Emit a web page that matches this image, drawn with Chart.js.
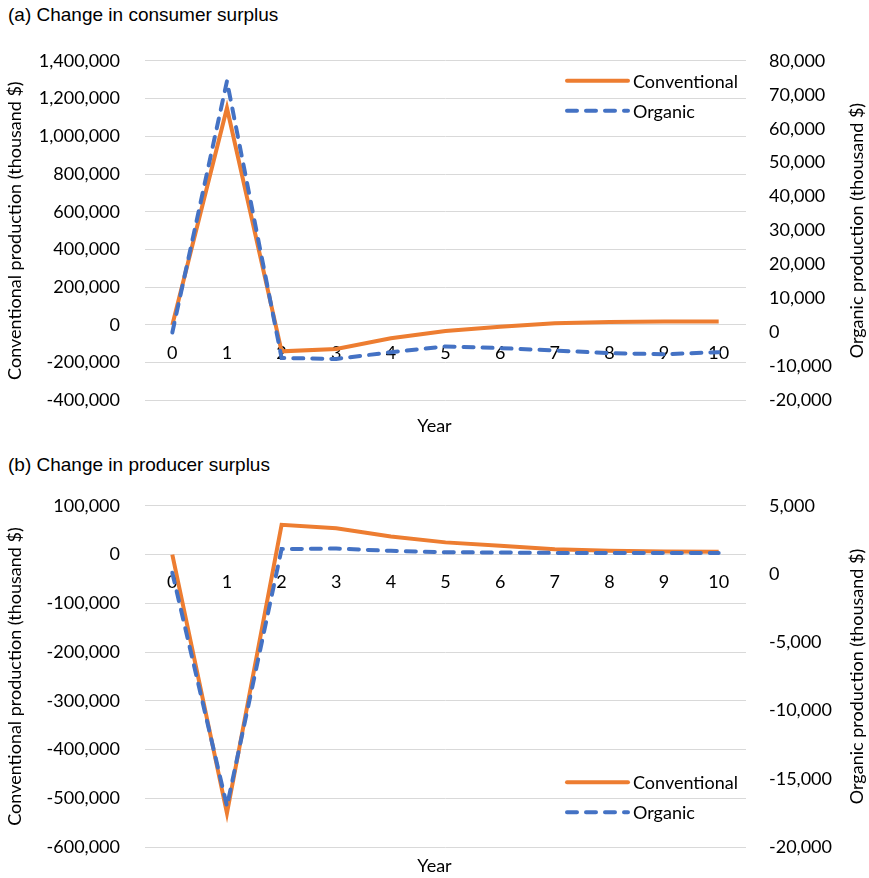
<!DOCTYPE html>
<html>
<head>
<meta charset="utf-8">
<script src="https://cdn.jsdelivr.net/npm/chart.js@4.4.1/dist/chart.umd.min.js"></script>
<style>
  body { margin: 0; background: #fff; width: 869px; height: 878px; position: relative; overflow: hidden; }
  .head { position: absolute; left: 8px; font: 19px "Liberation Sans", Arial, sans-serif; color: #000; line-height: 22px; }
  .wrap { position: absolute; left: 0; width: 869px; }
</style>
</head>
<body>
<div class="head" style="top:4px">(a) Change in consumer surplus</div>
<div class="wrap" style="top:25px;height:420px"><canvas id="chartA"></canvas></div>
<div class="head" style="top:454px">(b) Change in producer surplus</div>
<div class="wrap" style="top:470px;height:413px"><canvas id="chartB"></canvas></div>
<script>
let years = ["0", "1", "2", "3", "4", "5", "6", "7", "8", "9", "10"];

// (a) consumer surplus, thousand $
let consConventional = [0, 1150000, -140000, -127000, -71000, -32000, -9000, 9000, 16000, 18000, 18000];
let consOrganic = [0, 74000, -7500, -7800, -5800, -4100, -4600, -5300, -6100, -6400, -5800];

// (b) producer surplus, thousand $
let prodConventional = [0, -530000, 61000, 54000, 37000, 25000, 18000, 11000, 7600, 6200, 6000];
let prodOrganic = [100, -17000, 1830, 1870, 1700, 1600, 1580, 1550, 1550, 1550, 1550];

const ORANGE = "#ED7D31";
const BLUE = "#4472C4";
const FONT = "Lato, 'Open Sans', sans-serif";
const FS = 18;

function fmt(v) {
    return Number(v).toLocaleString("en-US");
}

// legend drawn inside the plot area, like the excel one
const miniLegend = {
    id: "miniLegend",
    afterDraw(chart, args, opts) {
        const ctx = chart.ctx;
        const area = chart.chartArea;
        const y0 = opts.place == "top" ? area.top + 20 : area.bottom - 65;
        const sets = [chart.data.datasets[0], chart.data.datasets[1]];
        ctx.save();
        sets.forEach((ds, i) => {
            let y = y0 + i * 30;
            ctx.beginPath();
            ctx.strokeStyle = ds.borderColor;
            ctx.lineWidth = 4;
            ctx.lineCap = "round";
            ctx.setLineDash(ds.borderDash || []);
            ctx.moveTo(area.right - 179, y);
            ctx.lineTo(area.right - 118, y);
            ctx.stroke();
            ctx.setLineDash([]);
            ctx.fillStyle = "#000";
            ctx.font = FS + "px " + FONT;
            ctx.textBaseline = "middle";
            ctx.fillText(ds.label, area.right - 113, y + 1);
        });
        ctx.restore();
    }
};

// right axis title reads bottom-to-top in the reference
const rightTitle = {
    id: "rightTitle",
    afterDraw(chart, args, opts) {
        const ctx = chart.ctx;
        const area = chart.chartArea;
        ctx.save();
        ctx.translate(chart.width - 12, (area.top + area.bottom) / 2);
        ctx.rotate(-Math.PI / 2);
        ctx.font = FS + "px " + FONT;
        ctx.fillStyle = "#000";
        ctx.textAlign = "center";
        ctx.textBaseline = "middle";
        ctx.fillText(opts.text, 0, 0);
        ctx.restore();
    }
};

function makeChart(id, conv, org, left, right, place, pad) {
    const ctx = document.getElementById(id).getContext("2d");
    return new Chart(ctx, {
        type: "line",
        data: {
            labels: years,
            datasets: [{
                label: "Conventional",
                data: conv,
                yAxisID: "y",
                borderColor: ORANGE,
                borderWidth: 4,
                pointRadius: 0,
                tension: 0,
                order: 1
            }, {
                label: "Organic",
                data: org,
                yAxisID: "y1",
                borderColor: BLUE,
                borderWidth: 4,
                borderDash: [10, 9],
                borderCapStyle: "round",
                pointRadius: 0,
                tension: 0,
                order: 0
            }]
        },
        options: {
            responsive: true,
            maintainAspectRatio: false,
            animation: false,
            layout: { padding: 0 },
            plugins: {
                legend: { display: false },
                tooltip: { enabled: false },
                title: {
                    display: true,
                    text: "Year",
                    position: "bottom",
                    color: "#000",
                    font: { family: FONT, size: FS, weight: "normal" },
                    padding: { top: pad.yearTop, bottom: pad.yearBottom }
                },
                miniLegend: { place: place },
                rightTitle: { text: "Organic production (thousand $)" }
            },
            scales: {
                x: {
                    type: "category",
                    offset: true,
                    position: { y: 0 },
                    grid: { display: false },
                    border: { display: false },
                    ticks: { color: "#000", font: { family: FONT, size: FS }, padding: 9, maxRotation: 0, autoSkip: false }
                },
                y: {
                    position: "left",
                    min: left[0],
                    max: left[1],
                    grid: { color: "#d9d9d9", lineWidth: 1, drawTicks: false },
                    border: { display: false },
                    ticks: { stepSize: left[2], color: "#000", font: { family: FONT, size: FS }, padding: 25, callback: v => fmt(v) },
                    title: { display: true, text: "Conventional production (thousand $)", color: "#000", font: { family: FONT, size: FS }, padding: { top: 4, bottom: 0 } },
                    afterFit: s => { s.width = 145; }
                },
                y1: {
                    position: "right",
                    min: right[0],
                    max: right[1],
                    grid: { drawOnChartArea: false, drawTicks: false },
                    border: { display: false },
                    ticks: { stepSize: right[2], color: "#000", font: { family: FONT, size: FS }, padding: 23, callback: v => fmt(v) },
                    afterFit: s => { s.width = 123; }
                }
            }
        },
        plugins: [miniLegend, rightTitle]
    });
}

makeChart("chartA", consConventional, consOrganic, [-400000, 1400000, 200000], [-20000, 80000, 10000], "top",
    { yearTop: 15, yearBottom: 8 });
makeChart("chartB", prodConventional, prodOrganic, [-600000, 100000, 100000], [-20000, 5000, 5000], "bottom",
    { yearTop: 8, yearBottom: 0 });
</script>
</body>
</html>
